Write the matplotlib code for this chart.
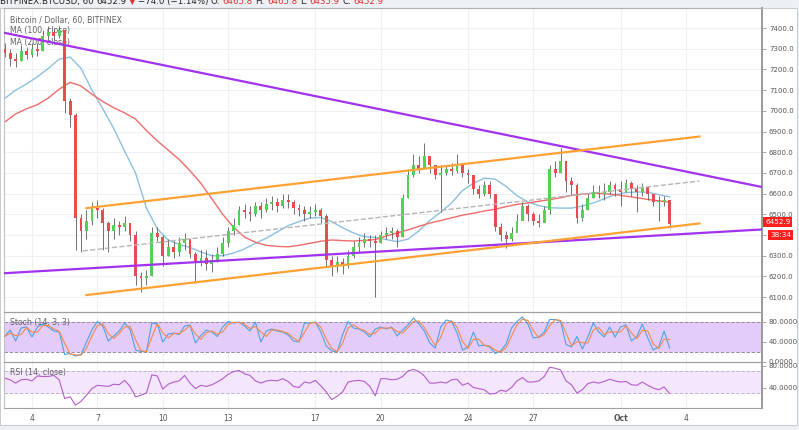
import numpy as np
import pandas as pd
import matplotlib
matplotlib.use('Agg')
import matplotlib.pyplot as plt
from matplotlib.patches import Rectangle

# ---- data (6h candles, BTCUSD Bitfinex) ----
first_open = 7300
closes = [7280, 7250, 7240, 7290, 7270, 7300, 7290, 7360, 7380, 7360,
          7390, 7050, 6980, 6480, 6420, 6470, 6530, 6520, 6460, 6420,
          6450, 6440, 6460, 6400, 6200, 6190, 6200, 6410, 6390, 6300,
          6340, 6320, 6360, 6380, 6310, 6270, 6290, 6260, 6280, 6310,
          6360, 6420, 6450, 6520, 6510, 6500, 6540, 6520, 6550, 6560,
          6540, 6570, 6560, 6530, 6520, 6500, 6510, 6520, 6490, 6280,
          6250, 6270, 6250, 6300, 6340, 6360, 6380, 6370, 6360, 6400,
          6410, 6420, 6390, 6580, 6690, 6740, 6720, 6780, 6740, 6690,
          6700, 6720, 6710, 6740, 6700, 6690, 6620, 6600, 6640, 6600,
          6440, 6400, 6380, 6410, 6470, 6540, 6500, 6470, 6460, 6520,
          6720, 6700, 6760, 6660, 6640, 6480, 6520, 6580, 6610, 6600,
          6610, 6640, 6620, 6610, 6650, 6620, 6610, 6630, 6600, 6560,
          6560, 6570, 6453]
highs = [7330, 7300, 7280, 7320, 7310, 7330, 7330, 7390, 7410, 7400,
         7410, 7390, 7060, 6990, 6500, 6520, 6560, 6570, 6530, 6470,
         6480, 6470, 6490, 6460, 6420, 6220, 6230, 6440, 6440, 6400,
         6380, 6370, 6390, 6410, 6380, 6320, 6330, 6330, 6310, 6340,
         6390, 6440, 6480, 6540, 6550, 6540, 6560, 6560, 6580, 6590,
         6580, 6600, 6600, 6570, 6550, 6540, 6540, 6550, 6530, 6500,
         6300, 6300, 6290, 6330, 6370, 6390, 6410, 6400, 6400, 6420,
         6440, 6440, 6430, 6600, 6720, 6790, 6780, 6845, 6780, 6730,
         6740, 6740, 6750, 6790, 6740, 6720, 6680, 6640, 6660, 6660,
         6600, 6460, 6420, 6440, 6500, 6560, 6550, 6510, 6500, 6540,
         6740, 6760, 6820, 6740, 6680, 6650, 6550, 6600, 6640, 6640,
         6650, 6660, 6650, 6660, 6670, 6660, 6640, 6650, 6630, 6600,
         6590, 6590, 6570]
lows = [7260, 7215, 7210, 7240, 7250, 7260, 7265, 7290, 7340, 7340,
        7350, 6990, 6920, 6330, 6320, 6380, 6450, 6480, 6330, 6320,
        6380, 6400, 6420, 6370, 6160, 6125, 6160, 6200, 6370, 6250,
        6300, 6290, 6300, 6330, 6290, 6170, 6250, 6230, 6220, 6270,
        6300, 6340, 6400, 6450, 6480, 6470, 6490, 6480, 6510, 6520,
        6510, 6530, 6530, 6500, 6490, 6470, 6480, 6490, 6460, 6250,
        6200, 6220, 6210, 6240, 6290, 6320, 6340, 6340, 6100, 6360,
        6380, 6380, 6340, 6390, 6580, 6680, 6700, 6720, 6700, 6670,
        6510, 6690, 6690, 6700, 6680, 6650, 6600, 6580, 6590, 6580,
        6420, 6370, 6335, 6370, 6420, 6480, 6470, 6450, 6440, 6480,
        6500, 6680, 6700, 6610, 6600, 6460, 6470, 6520, 6580, 6580,
        6570, 6600, 6590, 6540, 6610, 6590, 6510, 6590, 6570, 6540,
        6470, 6540, 6436]

ma100 = [7060, 7100, 7130, 7165, 7205, 7250, 7260, 7205, 7100, 7010,
         6915, 6805, 6700, 6530, 6430, 6375, 6355, 6340, 6318, 6300,
         6300, 6313, 6333, 6360, 6385, 6415, 6445, 6465, 6482, 6485,
         6465, 6435, 6410, 6392, 6388, 6378, 6368, 6380, 6420, 6470,
         6510, 6555, 6615, 6650, 6675, 6670, 6635, 6590, 6560, 6542,
         6532, 6530, 6530, 6540, 6555, 6575, 6595, 6605, 6608, 6607,
         6595, 6584]
ma200 = [6946, 6985, 7010, 7030, 7062, 7105, 7138, 7120, 7080, 7045,
         7015, 6990, 6960, 6905, 6855, 6810, 6765, 6710, 6650, 6575,
         6500, 6437, 6390, 6365, 6350, 6345, 6343, 6350, 6360, 6370,
         6376, 6373, 6371, 6374, 6378, 6395, 6410, 6425, 6442, 6458,
         6470, 6483, 6496, 6505, 6516, 6525, 6537, 6548, 6555, 6563,
         6571, 6580, 6592, 6597, 6602, 6600, 6595, 6588, 6580, 6572,
         6565, 6559]

stoch_k = [51, 64, 42, 68, 70, 50, 70, 76, 70, 62,
           60, 15, 17, 12, 15, 40, 64, 81, 72, 42,
           52, 62, 78, 65, 24, 21, 21, 78, 76, 40,
           56, 58, 55, 72, 74, 38, 53, 64, 60, 51,
           70, 81, 78, 80, 72, 62, 80, 40, 62, 66,
           62, 60, 54, 42, 40, 78, 78, 80, 60, 32,
           22, 20, 55, 81, 68, 66, 60, 50, 66, 70,
           66, 70, 52, 64, 74, 88, 76, 62, 38, 28,
           70, 84, 81, 58, 24, 30, 60, 32, 34, 30,
           17, 22, 36, 68, 81, 90, 76, 48, 50, 60,
           85, 85, 81, 35, 30, 51, 26, 50, 78, 60,
           50, 70, 50, 70, 74, 42, 51, 76, 48, 24,
           30, 62, 28]
rsi = [57, 54, 48, 54, 55, 52, 61, 60, 60, 62,
       54, 20, 23, 8, 15, 26, 38, 44, 43, 42,
       46, 45, 53, 42, 23, 26, 30, 63, 61, 37,
       46, 50, 52, 62, 48, 38, 44, 42, 45, 50,
       56, 64, 69, 71, 65, 62, 52, 48, 52, 53,
       52, 56, 51, 42, 40, 50, 48, 53, 43, 32,
       18, 24, 32, 50, 52, 53, 51, 42, 25, 56,
       56, 54, 55, 60, 70, 73, 69, 61, 48, 48,
       50, 48, 54, 55, 44, 48, 40, 38, 36, 28,
       29, 35, 33, 40, 52, 58, 50, 50, 52, 60,
       77, 75, 72, 52, 45, 30, 36, 47, 50, 48,
       51, 55, 52, 50, 51, 45, 44, 50, 44, 39,
       36, 41, 29]

# trend lines: (start, end) dates and prices
purple_upper = (['2018-09-02 12:00', '2018-10-08 00:00'], [7382, 6621])
purple_lower = (['2018-09-02 12:00', '2018-10-08 00:00'], [6214, 6430])
orange_upper = (['2018-09-06 12:00', '2018-10-04 15:00'], [6530, 6876])
orange_lower = (['2018-09-06 12:00', '2018-10-04 15:00'], [6110, 6456])
grey_mid = (['2018-09-06 08:00', '2018-10-04 15:00'], [6323, 6661])

tick_dates = ['2018-09-04', '2018-09-07', '2018-09-10', '2018-09-13', '2018-09-17',
              '2018-09-20', '2018-09-24', '2018-09-27', '2018-10-01', '2018-10-04']
tick_labels = ['4', '7', '10', '13', '17', '20', '24', '27', 'Oct', '4']

header = [('BITFINEX:BTCUSD, 60', '#222222'), ('6452.9', '#222222'),
          ('\u25bc', '#e03030'), ('\u221274.0 (\u22121.14%)', '#222222'),
          ('O:', '#222222'), ('6465.8', '#e03030'),
          ('H:', '#222222'), ('6465.8', '#e03030'),
          ('L:', '#222222'), ('6435.9', '#e03030'),
          ('C:', '#222222'), ('6452.9', '#e03030')]

times = pd.date_range('2018-09-02 18:00', periods=len(closes), freq='6h')
ma_times = pd.date_range('2018-09-02 18:00', periods=len(ma100), freq='12h')
opens = [first_open] + closes[:-1]

# ---- layout in pixels ----
W, H = 799, 430
fig = plt.figure(figsize=(W / 100, H / 100), dpi=100, facecolor='#eef1f4')


def box(l, t, r, b):
    return [l / W, 1 - b / H, (r - l) / W, (b - t) / H]


def px(x, y):
    return x / W, 1 - y / H


fig.patches.append(Rectangle((0, 1 - 425 / H), 797 / W, 417 / H, transform=fig.transFigure,
                             facecolor='white', edgecolor='#c9ccd1', lw=0.8, zorder=-10))

ax = fig.add_axes(box(4, 8, 762, 312))
ax_st = fig.add_axes(box(4, 312, 762, 362), sharex=ax)
ax_rsi = fig.add_axes(box(4, 362, 762, 408), sharex=ax)

grid_c = '#edf1f6'
x0 = pd.Timestamp('2018-09-02 17:11')
x1 = pd.Timestamp('2018-10-07 11:46')
for a in (ax, ax_st, ax_rsi):
    a.set_facecolor('none')
    a.yaxis.tick_right()
    a.tick_params(axis='y', length=3, width=0.6, color='#999999', labelsize=5,
                  labelcolor='#555555', pad=2)
    a.tick_params(axis='x', length=0, labelsize=5.5, labelcolor='#555555', pad=4)
    for s in a.spines.values():
        s.set_color('#a0a0a0')
        s.set_linewidth(0.8)
    a.spines['right'].set_color('#9a9a9a')
    a.spines['right'].set_linewidth(1.4)
    a.spines['left'].set_color('#c0c0c0')
    for d in tick_dates:
        a.axvline(pd.Timestamp(d), color=grid_c, lw=0.8, zorder=0)

ax.set_xlim(x0, x1)
ax.set_xticks([pd.Timestamp(d) for d in tick_dates])
plt.setp(ax.get_xticklabels(), visible=False)
plt.setp(ax_st.get_xticklabels(), visible=False)
ax_rsi.set_xticklabels(tick_labels)
for lab in ax_rsi.get_xticklabels():
    if lab.get_text() == 'Oct':
        lab.set_fontweight('bold')

# ---- main price panel ----
ax.set_ylim(6028, 7497)
yt = np.arange(6100, 7401, 100)
ax.set_yticks(yt)
# 6400 label sits under the last-price tags, as in the screenshot
ax.set_yticklabels(['' if v == 6400 else '%.1f' % v for v in yt])
for v in yt:
    ax.axhline(v, color=grid_c, lw=0.8, zorder=0)
ax.spines['top'].set_color('#b0b0b0')

ax.plot(ma_times, ma100, color='#8cc0e0', lw=1.0, zorder=2)
ax.plot(ma_times, ma200, color='#f26b6b', lw=1.0, zorder=2)

o = np.array(opens, dtype=float)
c = np.array(closes, dtype=float)
up = c >= o
body_lo = np.minimum(o, c)
body_h = np.maximum(np.abs(c - o), 4)
ax.vlines(times, lows, highs, color='#5a5a5a', lw=0.6, zorder=3)
ax.bar(times[up], body_h[up], bottom=body_lo[up], width=0.13, color='#52d152', lw=0, zorder=4)
ax.bar(times[~up], body_h[~up], bottom=body_lo[~up], width=0.13, color='#e84c4c', lw=0, zorder=4)

for dates, prices, col, ls in [(purple_upper[0], purple_upper[1], '#a232f0', '-'),
                               (purple_lower[0], purple_lower[1], '#a232f0', '-'),
                               (orange_upper[0], orange_upper[1], '#ffa133', '-'),
                               (orange_lower[0], orange_lower[1], '#ffa133', '-'),
                               (grey_mid[0], grey_mid[1], '#b5b5b5', '--')]:
    ax.plot(pd.to_datetime(dates), prices, color=col, lw=1.6 if ls == '-' else 1.0,
            ls=ls, zorder=5)

txt = dict(fontsize=5.6, color='#606060', zorder=1)
ax.text(0.008, 0.960, 'Bitcoin / Dollar, 60, BITFINEX', transform=ax.transAxes, va='center', **txt)
ax.text(0.008, 0.926, 'MA (100, close)', transform=ax.transAxes, va='center', **txt)
ax.text(0.008, 0.886, 'MA (200, close)', transform=ax.transAxes, va='center', **txt)

# ---- stochastic panel ----
ax_st.set_ylim(0, 100)
ax_st.axhspan(20, 80, color='#e4ccfa', lw=0, zorder=0)
ax_st.axhline(80, color='#9a8aa8', lw=0.7, ls='--', zorder=1)
ax_st.axhline(20, color='#9a8aa8', lw=0.7, ls='--', zorder=1)
stoch_d = pd.Series(stoch_k).rolling(2, min_periods=1).mean()
ax_st.plot(times, stoch_k, color='#4aa3e6', lw=0.8, zorder=2)
ax_st.plot(times, stoch_d, color='#f4894a', lw=0.8, zorder=3)
ax_st.set_yticks([0, 40, 80])
ax_st.set_yticklabels(['0.0000', '40.0000', '80.0000'])
ax_st.text(0.008, 0.78, 'Stoch (14, 3, 3)', transform=ax_st.transAxes, va='center', **txt)

# ---- RSI panel ----
ax_rsi.set_ylim(2.7, 86.4)
ax_rsi.axhspan(30, 70, color='#f4e6fd', lw=0, zorder=0)
ax_rsi.axhline(70, color='#c2b3cf', lw=0.7, ls='--', zorder=1)
ax_rsi.axhline(30, color='#c2b3cf', lw=0.7, ls='--', zorder=1)
ax_rsi.plot(times, rsi, color='#b45ccc', lw=0.8, zorder=2)
ax_rsi.set_yticks([40, 80])
ax_rsi.set_yticklabels(['40.0000', '80.0000'])
ax_rsi.text(0.008, 0.78, 'RSI (14, close)', transform=ax_rsi.transAxes, va='center', **txt)

# ---- header (cut off at the top edge), pieces laid out one after another ----
renderer = fig.canvas.get_renderer()
hx = 0.0
for s, col in header:
    t = fig.text(*px(hx, 4), s, fontsize=6.2, color=col, va='baseline', ha='left')
    hx += t.get_window_extent(renderer).width + 2.5

# ---- last price labels on the right axis ----
fig.text(*px(765, 222), '6452.9', fontsize=5.2, color='white', va='center', ha='left',
         bbox=dict(boxstyle='square,pad=0.25', fc='#ff1f1f', ec='none'))
fig.text(*px(770, 235), '38:34', fontsize=5.2, color='white', va='center', ha='left',
         bbox=dict(boxstyle='square,pad=0.25', fc='#ff1f1f', ec='none'))

fig.savefig('out.png', dpi=100, facecolor=fig.get_facecolor())
